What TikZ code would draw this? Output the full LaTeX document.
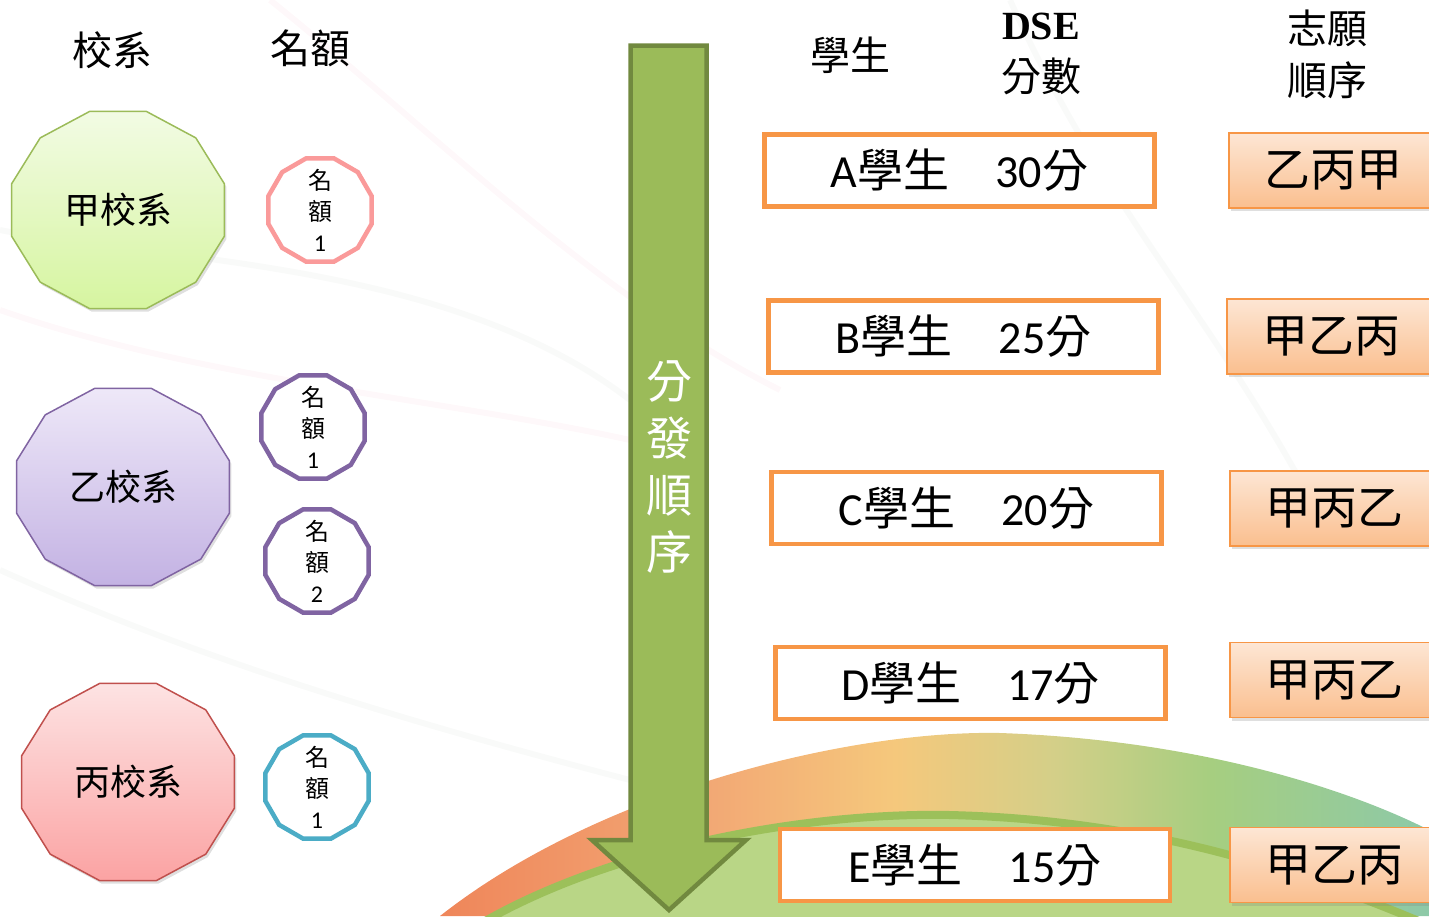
\documentclass[tikz,border=0pt]{standalone}
\usepackage{fontspec}
\setmainfont{Carlito}
\newfontfamily\cjk{Noto Sans CJK TC}
\newfontfamily\tnr{Liberation Serif}
\usetikzlibrary{shapes.geometric,shadows}
\definecolor{arrowfill}{HTML}{9BBB59}
\definecolor{arrowline}{HTML}{71893F}
\definecolor{stuline}{HTML}{F79646}
\definecolor{preftop}{HTML}{FDE6D4}
\definecolor{prefbot}{HTML}{FABF8F}
\definecolor{jialine}{HTML}{9BBB59}
\definecolor{jiatop}{HTML}{F2FBE4}
\definecolor{jiabot}{HTML}{D6F5A0}
\definecolor{yiline}{HTML}{8064A2}
\definecolor{yitop}{HTML}{EEE8F8}
\definecolor{yibot}{HTML}{C3B2E3}
\definecolor{bingline}{HTML}{C0504D}
\definecolor{bingtop}{HTML}{FDE3E3}
\definecolor{bingbot}{HTML}{FBA3A3}
\definecolor{quotapink}{HTML}{FA9A9A}
\definecolor{quotateal}{HTML}{4BACC6}
\definecolor{swooshpink}{HTML}{F4A0B4}
\definecolor{swooshgray}{HTML}{A8BCA8}
\definecolor{hillorange}{HTML}{EF865A}
\definecolor{hillpeach}{HTML}{F2A674}
\definecolor{hillyellow}{HTML}{F5C87C}
\definecolor{hillolive}{HTML}{D4CF88}
\definecolor{hillmoss}{HTML}{A6CE80}
\definecolor{hillteal}{HTML}{8DC9A8}
\definecolor{hillgreen}{HTML}{B9D686}
\definecolor{hilledge}{HTML}{9CC05A}
\pgfdeclarehorizontalshading{hillshade}{100bp}{color(0bp)=(hillorange); color(25bp)=(hillorange);
  color(38bp)=(hillpeach); color(48bp)=(hillyellow); color(56bp)=(hillolive);
  color(64bp)=(hillmoss); color(75bp)=(hillteal); color(100bp)=(hillteal)}
\newcommand\stulabel[2]{#1{\cjk 學生}\quad #2{\cjk 分}}

\begin{document}
\begin{tikzpicture}[x=1pt,y=-1pt,
  school/.style={line width=1.5pt, drop shadow={opacity=0.25,shadow xshift=2pt,shadow yshift=-3pt}},
  schooltext/.style={font=\cjk\fontsize{36}{40}\selectfont},
  quota/.style={regular polygon, regular polygon sides=12, minimum size=107, inner sep=0pt,
    line width=4.5pt, fill=white},
  quotatext/.style={align=center, inner sep=0pt, font=\cjk\fontsize{24}{31}\selectfont},
  head/.style={font=\cjk\fontsize{40}{52}\selectfont, align=center},
  stubox/.style={draw=stuline, line width=4.5pt, fill=white, minimum width=390,
    minimum height=72, inner sep=0pt, font=\fontsize{46}{50}\selectfont},
  prefbox/.style={draw=stuline, line width=1.5pt, top color=preftop, bottom color=prefbot,
    minimum width=210, minimum height=75, anchor=west, inner sep=0pt,
    font=\cjk\fontsize{46}{50}\selectfont,
    drop shadow={opacity=0.25,shadow xshift=2pt,shadow yshift=-3pt}},
  flow/.style={fill=arrowfill, draw=arrowline, line width=4.5pt, line join=miter},
  swoosh/.style={line width=6pt, opacity=0.07}]
\useasboundingbox (0,0) rectangle (1429,916);
\clip (0,0) rectangle (1429,916);

% background
\draw[swoosh, swooshpink] (270,0) .. controls (420,120) and (600,300) .. (780,390);
\draw[swoosh, swooshpink] (0,310) .. controls (200,380) and (450,400) .. (630,440);
\draw[swoosh, swooshgray] (0,230) .. controls (150,260) and (450,260) .. (630,400);
\draw[swoosh, swooshgray] (0,570) .. controls (200,660) and (400,720) .. (630,780);
\draw[swoosh, swooshgray] (1010,0) .. controls (1100,200) and (1200,300) .. (1300,480);
\path[shading=hillshade]
  (440,916) .. controls (600,790) and (850,730) .. (1000,733)
  .. controls (1200,740) and (1350,790) .. (1429,830) -- (1429,916) -- cycle;
\filldraw[fill=hillgreen, draw=hilledge, line width=8pt]
  (470,930) .. controls (600,850) and (800,812) .. (950,815)
  .. controls (1150,820) and (1300,870) .. (1440,930) -- cycle;

% headers
\node[head] (hschool) at (112,50) {校系};
\node[head] (hquota) at (310,48) {名額};
\node[head] (hstudent) at (850,55) {學生};
\node[head] (hscore) at (1041,54) {{\tnr\bfseries DSE}\\分數};
\node[head] (hwish) at (1327,54) {志願\\順序};

% schools
\path[school, draw=jialine, top color=jiatop, bottom color=jiabot] (118,210) +(15:110 and 102)
  \foreach \a in {45,75,...,345} {-- +(\a:110 and 102)} -- cycle;
\node[schooltext] (jia) at (118,210) {甲校系};
\path[school, draw=yiline, top color=yitop, bottom color=yibot] (123,487) +(15:110 and 102)
  \foreach \a in {45,75,...,345} {-- +(\a:110 and 102)} -- cycle;
\node[schooltext] (yi) at (123,487) {乙校系};
\path[school, draw=bingline, top color=bingtop, bottom color=bingbot] (128,782) +(15:110 and 102)
  \foreach \a in {45,75,...,345} {-- +(\a:110 and 102)} -- cycle;
\node[schooltext] (bing) at (128,782) {丙校系};

% quotas
\node[quota, draw=quotapink, label={[quotatext]center:名\\額\\{\rmfamily 1}}] (qjia) at (320,210) {};
\node[quota, draw=yiline, label={[quotatext]center:名\\額\\{\rmfamily 1}}] (qyi1) at (313,427) {};
\node[quota, draw=yiline, label={[quotatext]center:名\\額\\{\rmfamily 2}}] (qyi2) at (317,561) {};
\node[quota, draw=quotateal, label={[quotatext]center:名\\額\\{\rmfamily 1}}] (qbing) at (317,787) {};

% order arrow
\draw[flow] (630.5,45.5) -- (706.5,45.5) -- (706.5,840) -- (746,840) -- (669,910)
  -- (592,840) -- (630.5,840) -- cycle;
\node[font=\cjk\fontsize{46}{57}\selectfont, text=white, align=center] (order) at (669,467)
  {分\\發\\順\\序};

% students
\node[stubox] (sa) at (959.5,170.5) {\stulabel{A}{30}};
\node[stubox] (sb) at (963.5,336.5) {\stulabel{B}{25}};
\node[stubox] (sc) at (966.5,508) {\stulabel{C}{20}};
\node[stubox] (sd) at (970.5,683) {\stulabel{D}{17}};
\node[stubox] (se) at (975,865) {\stulabel{E}{15}};

% wishes
\node[prefbox] (pa) at (1228,170.5) {乙丙甲};
\node[prefbox] (pb) at (1226,336.5) {甲乙丙};
\node[prefbox] (pc) at (1229,508.5) {甲丙乙};
\node[prefbox] (pd) at (1229,680) {甲丙乙};
\node[prefbox] (pe) at (1229,865) {甲乙丙};
\end{tikzpicture}
\end{document}
